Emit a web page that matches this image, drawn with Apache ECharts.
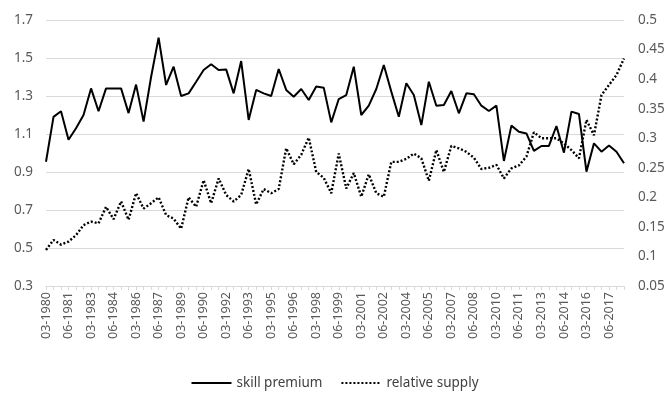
<!DOCTYPE html>
<html>
<head>
<meta charset="utf-8">
<script src="https://cdn.jsdelivr.net/npm/echarts@6/dist/echarts.min.js"></script>
<style>html,body{margin:0;padding:0;background:#fff}#c{width:669px;height:395px}</style>
</head>
<body>
<div id="c"></div>
<script>
var categories = [
"03-1980","06-1980","03-1981","06-1981","03-1982","06-1982","03-1983","06-1983","03-1984","06-1984",
"03-1985","06-1985","03-1986","06-1986","03-1987","06-1987","03-1988","06-1988","03-1989","06-1989",
"03-1990","06-1990","03-1991","06-1991","03-1992","06-1992","03-1993","06-1993","03-1994","06-1994",
"03-1995","06-1995","03-1996","06-1996","03-1997","06-1997","03-1998","06-1998","03-1999","06-1999",
"03-2000","06-2000","03-2001","06-2001","03-2002","06-2002","03-2003","06-2003","03-2004","06-2004",
"03-2005","06-2005","03-2006","06-2006","03-2007","06-2007","03-2008","06-2008","03-2009","06-2009",
"03-2010","06-2010","03-2011","06-2011","03-2012","06-2012","03-2013","06-2013","03-2014","06-2014",
"03-2015","06-2015","03-2016","06-2016","03-2017","06-2017","03-2018","06-2018"
];
var skillPremium = [
0.954,1.19,1.22,1.07,1.13,1.20,1.34,1.22,1.34,1.34,
1.34,1.21,1.36,1.165,1.40,1.607,1.358,1.454,1.30,1.314,
1.375,1.437,1.467,1.437,1.44,1.314,1.484,1.174,1.332,1.314,
1.30,1.442,1.332,1.296,1.337,1.279,1.35,1.344,1.161,1.284,
1.305,1.454,1.20,1.249,1.337,1.463,1.323,1.191,1.367,1.305,
1.147,1.375,1.249,1.253,1.326,1.209,1.314,1.309,1.249,1.221,
1.249,0.958,1.144,1.112,1.103,1.011,1.037,1.037,1.142,1.002,
1.218,1.205,0.902,1.051,1.007,1.039,1.007,0.946
];
var relativeSupply = [
0.111,0.128,0.120,0.125,0.136,0.153,0.159,0.156,0.184,0.163,
0.193,0.162,0.207,0.181,0.190,0.200,0.170,0.164,0.147,0.200,
0.184,0.229,0.190,0.232,0.204,0.193,0.204,0.248,0.188,0.214,
0.207,0.214,0.283,0.256,0.272,0.301,0.243,0.233,0.207,0.274,
0.215,0.241,0.201,0.239,0.207,0.201,0.260,0.260,0.265,0.274,
0.266,0.228,0.280,0.243,0.287,0.283,0.277,0.267,0.248,0.250,
0.255,0.232,0.249,0.254,0.269,0.310,0.300,0.300,0.300,0.291,
0.280,0.266,0.331,0.305,0.373,0.390,0.407,0.435
];
var seriesNames = ["skill premium","relative supply"];

var chart = echarts.init(document.getElementById('c'), null, {renderer:'canvas'});
var txt = '#595959';
var grey = '#d9d9d9';
chart.setOption({
  animation:false,
  textStyle:{fontFamily:'Noto Sans'},
  grid:{left:46,right:45,top:20,bottom:109,containLabel:false},
  legend:{
    bottom:0, left:'center', itemGap:18, itemWidth:40, itemHeight:10,
    textStyle:{color:'#404040',fontSize:13.5,fontFamily:'Noto Sans'},
    itemStyle:{opacity:0},
    data:seriesNames
  },
  xAxis:{
    type:'category', data:categories, boundaryGap:false,
    axisLine:{show:true,lineStyle:{color:grey}},
    axisTick:{show:true,interval:0,length:4,lineStyle:{color:grey}},
    axisLabel:{interval:2,rotate:90,color:txt,fontSize:12.5,margin:6,fontFamily:'Noto Sans'},
    splitLine:{show:false}
  },
  yAxis:[{
    type:'value', min:0.3, max:1.7, interval:0.2, position:'left',
    axisLine:{show:false}, axisTick:{show:false},
    axisLabel:{color:txt,fontSize:13.5,margin:13,formatter:function(v){return v.toFixed(1);}},
    splitLine:{show:true,lineStyle:{color:grey,width:1}}
  },{
    type:'value', min:0.05, max:0.5, interval:0.05, position:'right',
    axisLine:{show:false}, axisTick:{show:false},
    axisLabel:{color:txt,fontSize:13.5,margin:14,formatter:function(v){return String(parseFloat(v.toFixed(2)));}},
    splitLine:{show:false}
  }],
  series:[{
    name:seriesNames[0], type:'line', yAxisIndex:0, data:skillPremium,
    symbol:'none', lineStyle:{color:'#000',width:2}, itemStyle:{color:'#000'}
  },{
    name:seriesNames[1], type:'line', yAxisIndex:1, data:relativeSupply,
    symbol:'none', lineStyle:{color:'#000',width:2.4,type:[2,2]}, itemStyle:{color:'#000'}
  }]
});
</script>
</body>
</html>
